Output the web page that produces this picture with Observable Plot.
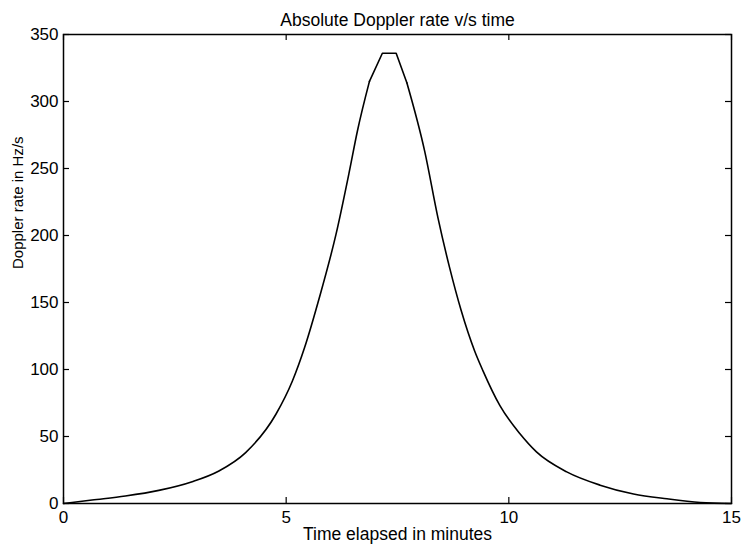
<!DOCTYPE html>
<html>
<head>
<meta charset="utf-8">
<script src="https://cdn.jsdelivr.net/npm/d3@7"></script>
<script src="https://cdn.jsdelivr.net/npm/@observablehq/plot@0.6"></script>
<style>
  html, body { margin: 0; padding: 0; background: #fff; }
</style>
</head>
<body>
<div id="chart"></div>
<script>
// Time elapsed (minutes)
const timeMin = [0, 0.64, 1.39, 2.14, 2.89, 3.49, 4.09, 4.77, 5.14, 5.41, 5.74, 6.12, 6.42, 6.6, 6.87, 7.16, 7.47, 7.71, 8.11, 8.41, 8.67, 8.93, 9.23, 9.42, 9.8, 10.25, 10.62, 11.3, 12.05, 12.8, 13.55, 14.3, 15];
// Absolute Doppler rate (Hz/s)
const dopplerRate = [0, 2.6, 5.6, 9.8, 16.3, 24.3, 38, 66.6, 91.4, 116, 153, 201, 248, 278, 315, 336, 336, 314, 263, 213, 176, 144, 114, 99, 73, 52, 38.5, 23.6, 13.7, 7.1, 3.5, 0.8, 0];

const xTicks = [0, 5, 10, 15];
const yTicks = [0, 50, 100, 150, 200, 250, 300, 350];

const titleText = "Absolute Doppler rate v/s time";
const xLabel = "Time elapsed in minutes";
const yLabel = "Doppler rate in Hz/s";

// the sampled peak (joined by straight segments in the original)
const peakStart = 6.87, peakEnd = 7.71;

const data = timeMin.map((t, i) => ({t, v: dopplerRate[i]}));
const leftFlank = data.filter(d => d.t <= peakStart);
const peak = data.filter(d => d.t >= peakStart && d.t <= peakEnd);
const rightFlank = data.filter(d => d.t >= peakEnd);

const W = 743, H = 548;
const mL = 63, mR = 12, mT = 34, mB = 45;
const innerW = W - mL - mR, innerH = H - mT - mB;
const tick = 6;
const lineStyle = {x: "t", y: "v", stroke: "#000", strokeWidth: 1.6};

const chart = Plot.plot({
  width: W,
  height: H,
  marginLeft: mL,
  marginRight: mR,
  marginTop: mT,
  marginBottom: mB,
  style: {fontFamily: "'Liberation Sans', Arial, Helvetica, sans-serif", fontSize: "17px", color: "#000", background: "#fff"},
  x: {domain: [0, 15]},
  y: {domain: [0, 350]},
  marks: [
    Plot.axisX({ticks: xTicks, tickSize: 0, tickPadding: 7, label: null, fontSize: 17}),
    Plot.axisY({ticks: yTicks, tickSize: 0, tickPadding: 5, label: null, fontSize: 17}),
    // inward ticks on all four sides
    Plot.ruleY(yTicks, {y: d => d, insetRight: innerW - tick, stroke: "#000", strokeWidth: 1.2}),
    Plot.ruleY(yTicks, {y: d => d, insetLeft: innerW - tick, stroke: "#000", strokeWidth: 1.2}),
    Plot.ruleX(xTicks, {x: d => d, insetTop: innerH - tick, stroke: "#000", strokeWidth: 1.2}),
    Plot.ruleX(xTicks, {x: d => d, insetBottom: innerH - tick, stroke: "#000", strokeWidth: 1.2}),
    Plot.frame({stroke: "#000", strokeWidth: 1.5}),
    Plot.line(leftFlank, {...lineStyle, curve: "monotone-x"}),
    Plot.line(peak, {...lineStyle, curve: "linear"}),
    Plot.line(rightFlank, {...lineStyle, curve: "monotone-x"}),
    Plot.text([titleText], {frameAnchor: "top", lineAnchor: "middle", dy: -14.5, text: d => d, fontSize: 17.5, fill: "#000"}),
    Plot.text([xLabel], {frameAnchor: "bottom", lineAnchor: "middle", dy: 31, text: d => d, fontSize: 17.5, fill: "#000"}),
    Plot.text([yLabel], {frameAnchor: "left", lineAnchor: "middle", dx: -45.5, dy: 0, rotate: -90, text: d => d, fontSize: 15, fill: "#000"})
  ]
});
document.getElementById("chart").appendChild(chart);
</script>
</body>
</html>
